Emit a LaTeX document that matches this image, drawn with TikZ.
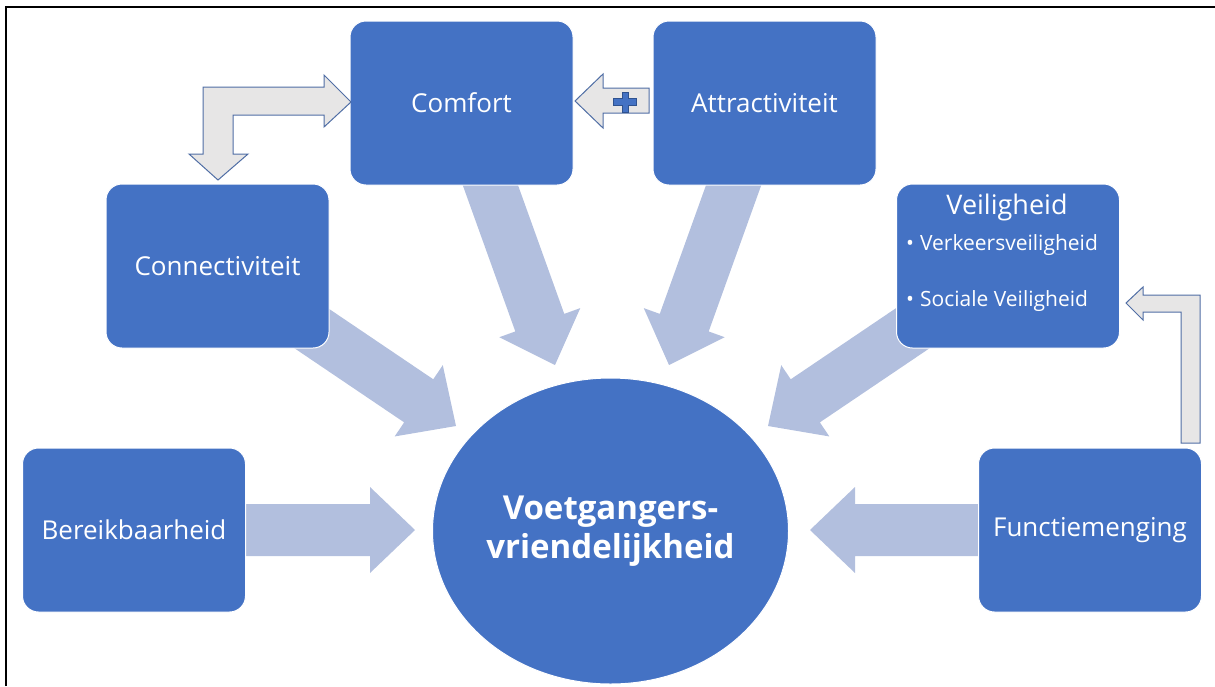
\documentclass[tikz,border=0pt]{standalone}
\usepackage{fontspec}
\setmainfont{Open Sans}
\usetikzlibrary{calc,shapes.geometric}
\definecolor{boxblue}{RGB}{68,114,196}
\definecolor{arrblue}{RGB}{178,191,222}
\definecolor{bentfill}{RGB}{231,230,230}
\definecolor{bentline}{RGB}{80,110,165}
\definecolor{plusline}{RGB}{47,82,143}
\tikzset{
  box/.style={draw=white, line width=1pt, fill=boxblue, rounded corners=16pt,
    minimum width=223pt, minimum height=164pt, inner sep=0pt, text=white,
    font=\fontsize{26}{30}\selectfont, align=center},
  hub/.style={ellipse, draw=white, line width=1pt, fill=boxblue,
    minimum width=356pt, minimum height=306pt, inner sep=0pt, text=white,
    font=\bfseries\fontsize{33}{39}\selectfont, align=center},
  boxtext/.style={text=white, inner sep=0pt, font=\fontsize{27}{30}\selectfont},
  itemtext/.style={text=white, inner sep=0pt, anchor=west, font=\fontsize{21}{25}\selectfont},
  bigarrow/.style={fill=arrblue},
  bent/.style={fill=bentfill, draw=bentline, line width=1pt, line join=miter},
  plussign/.style={fill=boxblue, draw=plusline, line width=0.8pt},
}
\newcommand\bigarr[2]{%
  \path (#2) coordinate (tmpT) ($(#2)!45pt!(#1)$) coordinate (tmpH);
  \fill[bigarrow] ($(#1)!26pt!90:(tmpT)$) -- ($(tmpH)!26pt!90:(tmpT)$)
    -- ($(tmpH)!43pt!90:(tmpT)$) -- (tmpT) -- ($(tmpH)!43pt!-90:(tmpT)$)
    -- ($(tmpH)!26pt!-90:(tmpT)$) -- ($(#1)!26pt!-90:(tmpT)$) -- cycle;}
\begin{document}
\begin{tikzpicture}[x=1pt,y=-1pt]
\useasboundingbox (0,0) rectangle (1215,686);
\draw[line width=2pt] (6,686) -- (6,7) -- (1215,7);

% arrow end points
\coordinate (bA) at (230,530);  \coordinate (bT) at (415,530);
\coordinate (fA) at (990,530);  \coordinate (fT) at (810,530);
\coordinate (cA) at (305,324);  \coordinate (cT) at (456,426);
\coordinate (vA) at (919,324);  \coordinate (vT) at (768,426);
\coordinate (kA) at (486,173);  \coordinate (kT) at (555,365);
\coordinate (aA) at (738,173);  \coordinate (aT) at (669,365);

\bigarr{bA}{bT}
\bigarr{fA}{fT}
\bigarr{cA}{cT}
\bigarr{vA}{vT}
\bigarr{kA}{kT}
\bigarr{aA}{aT}

% boxes
\node[box] (comfort) at (461.5,103) {Comfort};
\node[box] (attr) at (764.5,103) {Attractiviteit};
\node[box] (conn) at (217.5,266) {Connectiviteit};
\node[box] (veil) at (1008,266) {};
\node[box] (bereik) at (134,530) {Bereikbaarheid};
\node[box] (functie) at (1090,530) {Functiemenging};
\node[hub] (hub) at (610.5,531) {Voetgangers-\\vriendelijkheid};

\node[boxtext] (veilT) at (1007,207) {Veiligheid};
\node[itemtext] (veil1) at (906,245) {\textbullet\hspace{6pt}Verkeersveiligheid};
\node[itemtext] (veil2) at (906,301) {\textbullet\hspace{6pt}Sociale Veiligheid};

% bent arrows
\draw[bent] (351,102) -- (324,75) -- (324,87) -- (203,87) -- (203,154) -- (189,154)
  -- (218,180) -- (248,154) -- (233,154) -- (233,115) -- (324,115) -- (324,127) -- cycle;
\draw[bent] (575,101) -- (603,74) -- (603,88) -- (649,88) -- (649,113) -- (603,113)
  -- (603,128) -- cycle;
\draw[plussign] (613,98) -- (622,98) -- (622,92) -- (628,92) -- (628,98) -- (636,98)
  -- (636,105) -- (628,105) -- (628,112) -- (622,112) -- (622,105) -- (613,105) -- cycle;
\draw[bent] (1126,303) -- (1143,287) -- (1143,295) -- (1200,295) -- (1200,443)
  -- (1181,443) -- (1181,312) -- (1143,312) -- (1143,320) -- cycle;
\end{tikzpicture}
\end{document}
